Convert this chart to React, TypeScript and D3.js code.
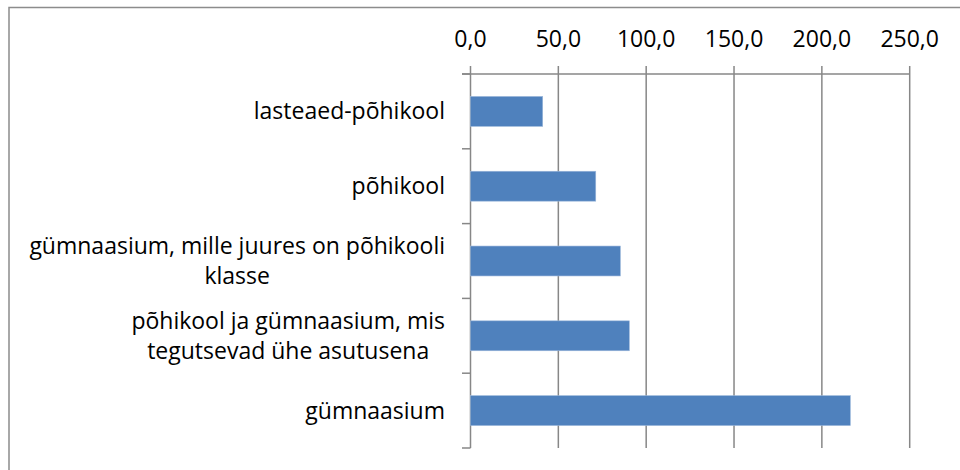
import React, { useEffect, useRef } from "react";
import * as d3 from "d3";

const categories = [
  "lasteaed-põhikool",
  "põhikool",
  "gümnaasium, mille juures on põhikooli klasse",
  "põhikool ja gümnaasium, mis tegutsevad ühe asutusena",
  "gümnaasium",
];
const categoryLines = [
  ["lasteaed-põhikool"],
  ["põhikool"],
  ["gümnaasium, mille juures on põhikooli", "klasse"],
  ["põhikool ja gümnaasium, mis", "tegutsevad ühe asutusena"],
  ["gümnaasium"],
];
const values = [41.1, 71.3, 85.3, 90.4, 216.2];
const xTicks = [0, 50, 100, 150, 200, 250];

const W = 960;
const H = 470;
const FONT = "'Open Sans', 'Noto Sans', sans-serif";
const GRID = "#878787";

export default function App() {
  const ref = useRef<SVGSVGElement>(null);

  useEffect(() => {
    const svg = d3.select(ref.current);
    svg.selectAll("*").remove();

    const x = d3.scaleLinear().domain([0, 250]).range([470.5, 909.7]);
    const y = d3
      .scaleBand<string>()
      .domain(categories)
      .range([74, 448])
      .paddingInner(0.6)
      .paddingOuter(0.3);

    // outer border
    svg
      .append("path")
      .attr("d", `M9,${H + 5} L9,7.5 L${W + 5},7.5`)
      .attr("fill", "none")
      .attr("stroke", "#8c8c8c")
      .attr("stroke-width", 1.5);

    const yTop = 74;
    const yBot = 448;

    // gridlines + tick marks
    xTicks.forEach((t) => {
      svg
        .append("line")
        .attr("x1", x(t))
        .attr("x2", x(t))
        .attr("y1", yTop - 8)
        .attr("y2", yBot)
        .attr("stroke", GRID)
        .attr("stroke-width", 1.5);
    });

    // top axis line
    svg
      .append("line")
      .attr("x1", x(0) - 8.5)
      .attr("x2", x(250))
      .attr("y1", yTop)
      .attr("y2", yTop)
      .attr("stroke", GRID)
      .attr("stroke-width", 1.5);

    // category ticks
    const step = y.step();
    const boundaries = d3.range(categories.length + 1).map((i) => yTop + i * step);
    boundaries.forEach((b) => {
      svg
        .append("line")
        .attr("x1", x(0) - 8.5)
        .attr("x2", x(0))
        .attr("y1", b)
        .attr("y2", b)
        .attr("stroke", GRID)
        .attr("stroke-width", 1.5);
    });

    // bars
    svg
      .selectAll("rect.bar")
      .data(categories)
      .enter()
      .append("rect")
      .attr("class", "bar")
      .attr("x", x(0))
      .attr("y", (d) => y(d) as number)
      .attr("width", (d, i) => x(values[i]) - x(0))
      .attr("height", y.bandwidth())
      .attr("fill", "#4F81BD")
      .attr("stroke", "#9bb7db")
      .attr("stroke-width", 0.6);

    // tick labels
    xTicks.forEach((t) => {
      svg
        .append("text")
        .attr("x", x(t))
        .attr("y", 47)
        .attr("text-anchor", "middle")
        .attr("font-family", FONT)
        .attr("font-size", 23)
        .attr("fill", "#000")
        .text(d3.format(".1f")(t).replace(".", ","));
    });

    // category labels
    const rightEdge = 445;
    const lineH = 29.5;
    categories.forEach((c, i) => {
      const lines = categoryLines[i];
      const center = (y(c) as number) + y.bandwidth() / 2;
      const g = svg.append("g");
      const texts = lines.map((ln) =>
        g
          .append("text")
          .attr("font-family", FONT)
          .attr("font-size", 23)
          .attr("fill", "#000")
          .attr("text-anchor", "middle")
          .text(ln)
      );
      const widths = texts.map((t) => (t.node() as SVGTextElement).getComputedTextLength());
      const bw = Math.max(...widths);
      const cx = rightEdge - bw / 2;
      const firstBase = center + 8 - ((lines.length - 1) * lineH) / 2;
      texts.forEach((t, k) => {
        t.attr("x", cx).attr("y", firstBase + k * lineH);
      });
    });
  }, []);

  return (
    <svg
      ref={ref}
      width={W}
      height={H}
      style={{ position: "absolute", left: 0, top: 0, background: "#fff", display: "block" }}
    />
  );
}
